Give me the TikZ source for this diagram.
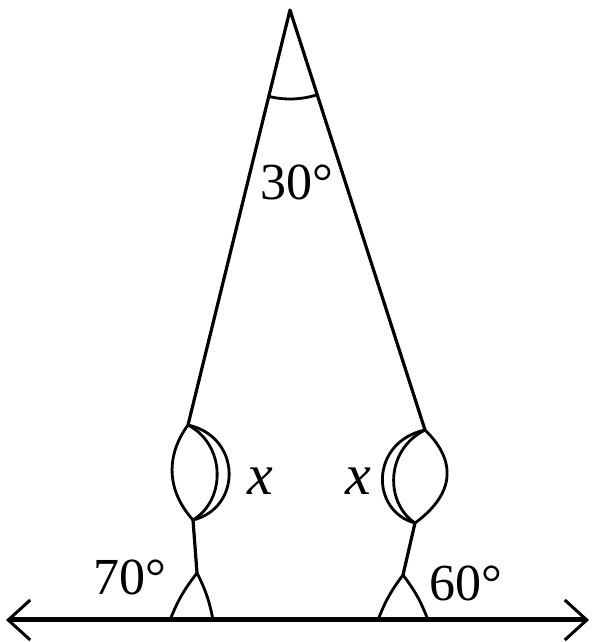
\documentclass[tikz,border=0pt]{standalone}
\usepackage{fontspec}
\setmainfont{Liberation Serif}
\usetikzlibrary{arrows.meta}

\begin{document}
\begin{tikzpicture}[x=1pt, y=1pt,
  side/.style={line width=3.2pt, line join=round},
  anglemark/.style={line width=2.8pt},
  ground/.style={line width=5pt,
                 {Straight Barb[length=22pt, width=40pt, line width=3pt]}-{Straight Barb[length=22pt, width=40pt, line width=3pt]}},
  lbl/.style={inner sep=0pt, font=\fontsize{52}{56}\selectfont},
  var/.style={inner sep=0pt, font=\fontsize{58}{62}\selectfont\itshape}]

  \useasboundingbox (0,0) rectangle (595,642);

  \coordinate (apex) at (290,632);
  \coordinate (lt)   at (188,217);
  \coordinate (lb)   at (193,122);
  \coordinate (lc)   at (197,69);
  \coordinate (rt)   at (425,212);
  \coordinate (rb)   at (415,119);
  \coordinate (rc)   at (403,67);
  \coordinate (gl)   at (6,22);
  \coordinate (gr)   at (589,22);
  \coordinate (la)   at (170,22);
  \coordinate (lz)   at (213,22);
  \coordinate (ra)   at (378,22);
  \coordinate (rz)   at (428,22);

  % sides and ground line
  \draw[side] (lt) -- (apex) -- (rt);
  \draw[side] (lb) -- (lc);
  \draw[side] (rb) -- (rc);
  \draw[ground] (gl) -- (gr);

  % angle at the apex
  \draw[anglemark] (apex) ++(256:89) arc[start angle=256, end angle=288, radius=89];

  % x angles
  \draw[anglemark] (lt) .. controls (166,187) and (166,152) .. (lb);
  \draw[anglemark] (lt) .. controls (226,197) and (226,142) .. (lb);
  \draw[anglemark] (lt) .. controls (242,205) and (242,134) .. (lb);
  \draw[anglemark] (rt) .. controls (456,182) and (456,149) .. (rb);
  \draw[anglemark] (rt) .. controls (385,192) and (385,139) .. (rb);
  \draw[anglemark] (rt) .. controls (370,200) and (370,131) .. (rb);

  % angles at the ground
  \draw[anglemark] (la) to[bend left=8] (lc) to[bend left=8] (lz);
  \draw[anglemark] (ra) to[bend left=8] (rc) to[bend left=8] (rz);

  \node[lbl] (top)   at (297,460) {30°};
  \node[lbl] (left)  at (130,65)  {70°};
  \node[lbl] (right) at (466,59)  {60°};
  \node[var] (xl)    at (260,161) {x};
  \node[var] (xr)    at (358,161) {x};
\end{tikzpicture}
\end{document}
